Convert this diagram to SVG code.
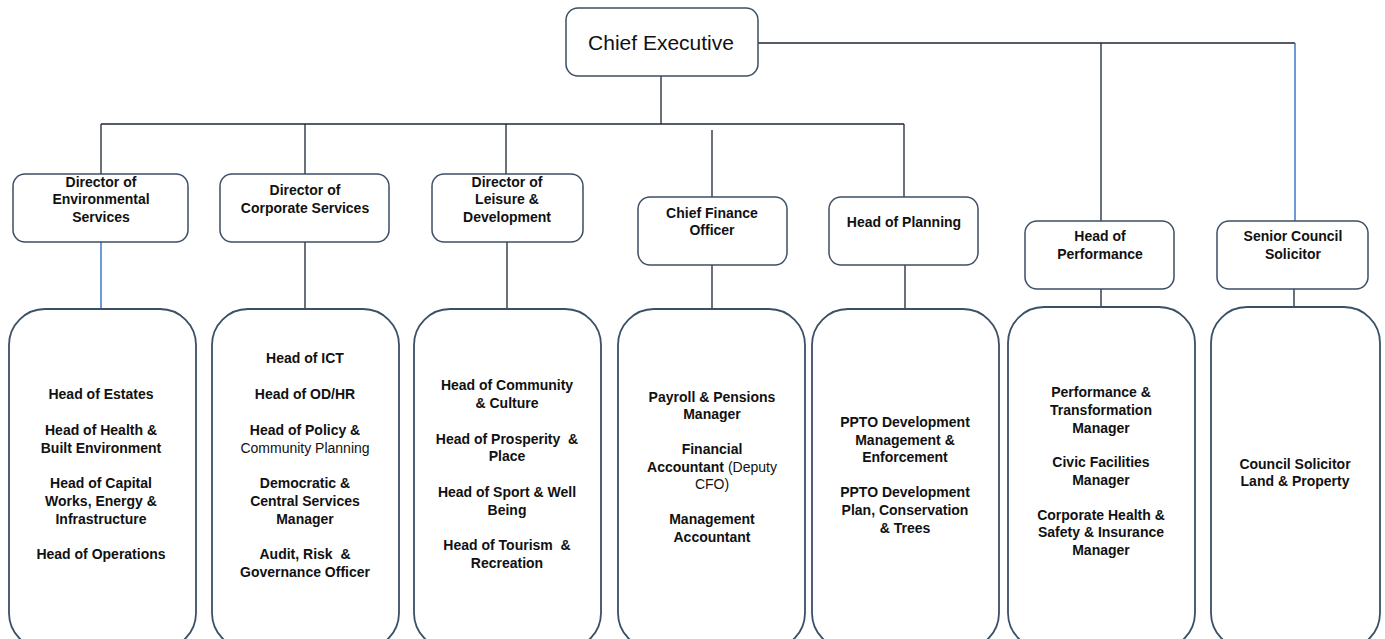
<svg xmlns="http://www.w3.org/2000/svg" width="1385" height="639" viewBox="0 0 1385 639">
<style>
.box{fill:#fff;stroke:#3b4f66;stroke-width:1.5}
.big{fill:#fff;stroke:#3b4f66;stroke-width:1.8}
.ln{stroke:#1e2733;stroke-width:1.3;fill:none}
.bl{stroke:#3a78c8;stroke-width:1.5;fill:none}
text{font-family:"Liberation Sans",Arial,sans-serif;font-size:14px;font-weight:bold;fill:#111;text-anchor:middle}
.n{font-weight:normal}
.ce{font-size:21px;font-weight:normal}
</style>
<rect width="1385" height="639" fill="#fff"/>
<g id="connectors">
<path class="ln" d="M758 43H1295M1101 43V221M661 76V124M101 124H904M101 124V174M305 124V174M506 124V174M904 124V197M712 130V197"/>
<path class="bl" d="M1295 43V221"/>
<path class="bl" d="M101 242V309"/>
<path class="ln" d="M305 242V309M507 242V309M712 265V309M905 265V309M1101 289V307M1294 289V307"/>
</g>
<g id="chief-executive">
<rect class="box" x="566" y="8" width="192" height="68" rx="12"/>
<text class="ce" x="661" y="50">Chief Executive</text>
</g>
<g id="dir-env">
<rect class="box" x="13" y="174" width="175" height="68" rx="12"/>
<text x="101" y="187">Director of</text><text x="101" y="204">Environmental</text><text x="101" y="222">Services</text>
</g>
<g id="dir-corp">
<rect class="box" x="220" y="174" width="169" height="68" rx="12"/>
<text x="305" y="195">Director of</text><text x="305" y="213">Corporate Services</text>
</g>
<g id="dir-leisure">
<rect class="box" x="432" y="174" width="151" height="68" rx="12"/>
<text x="507" y="187">Director of</text><text x="507" y="204">Leisure &amp;</text><text x="507" y="222">Development</text>
</g>
<g id="cfo">
<rect class="box" x="638" y="197" width="149" height="68" rx="12"/>
<text x="712" y="218">Chief Finance</text><text x="712" y="235">Officer</text>
</g>
<g id="head-planning">
<rect class="box" x="829" y="197" width="149" height="68" rx="12"/>
<text x="904" y="227">Head of Planning</text>
</g>
<g id="head-performance">
<rect class="box" x="1025" y="221" width="149" height="68" rx="12"/>
<text x="1100" y="241">Head of</text><text x="1100" y="259">Performance</text>
</g>
<g id="senior-solicitor">
<rect class="box" x="1217" y="221" width="151" height="68" rx="12"/>
<text x="1293" y="241">Senior Council</text><text x="1293" y="259">Solicitor</text>
</g>
<g id="team-env">
<rect class="big" x="9" y="309" width="187" height="340" rx="36"/>
<text x="101" y="399">Head of Estates</text>
<text x="101" y="435">Head of Health &amp;</text><text x="101" y="453">Built Environment</text>
<text x="101" y="488">Head of Capital</text><text x="101" y="506">Works, Energy &amp;</text><text x="101" y="524">Infrastructure</text>
<text x="101" y="559">Head of Operations</text>
</g>
<g id="team-corp">
<rect class="big" x="212" y="309" width="187" height="340" rx="36"/>
<text x="305" y="363">Head of ICT</text>
<text x="305" y="399">Head of OD/HR</text>
<text x="305" y="435">Head of Policy &amp;</text><text class="n" x="305" y="453">Community Planning</text>
<text x="305" y="488">Democratic &amp;</text><text x="305" y="506">Central Services</text><text x="305" y="524">Manager</text>
<text x="305" y="559">Audit, Risk&#160; &amp;</text><text x="305" y="577">Governance Officer</text>
</g>
<g id="team-leisure">
<rect class="big" x="414" y="309" width="187" height="340" rx="36"/>
<text x="507" y="390">Head of Community</text><text x="507" y="408">&amp; Culture</text>
<text x="507" y="444">Head of Prosperity&#160; &amp;</text><text x="507" y="461">Place</text>
<text x="507" y="497">Head of Sport &amp; Well</text><text x="507" y="515">Being</text>
<text x="507" y="550">Head of Tourism&#160; &amp;</text><text x="507" y="568">Recreation</text>
</g>
<g id="team-finance">
<rect class="big" x="618" y="309" width="187" height="340" rx="36"/>
<text x="712" y="402">Payroll &amp; Pensions</text><text x="712" y="419">Manager</text>
<text x="712" y="454">Financial</text>
<text x="712" y="472">Accountant <tspan class="n">(Deputy</tspan></text>
<text class="n" x="712" y="489">CFO)</text>
<text x="712" y="524">Management</text><text x="712" y="542">Accountant</text>
</g>
<g id="team-planning">
<rect class="big" x="812" y="309" width="187" height="340" rx="36"/>
<text x="905" y="427">PPTO Development</text><text x="905" y="445">Management &amp;</text><text x="905" y="462">Enforcement</text>
<text x="905" y="497">PPTO Development</text><text x="905" y="515">Plan, Conservation</text><text x="905" y="533">&amp; Trees</text>
</g>
<g id="team-performance">
<rect class="big" x="1008" y="307" width="187" height="342" rx="36"/>
<text x="1101" y="397">Performance &amp;</text><text x="1101" y="415">Transformation</text><text x="1101" y="433">Manager</text>
<text x="1101" y="467">Civic Facilities</text><text x="1101" y="485">Manager</text>
<text x="1101" y="520">Corporate Health &amp;</text><text x="1101" y="537">Safety &amp; Insurance</text><text x="1101" y="555">Manager</text>
</g>
<g id="team-solicitor">
<rect class="big" x="1211" y="307" width="169" height="342" rx="36"/>
<text x="1295" y="469">Council Solicitor</text><text x="1295" y="486">Land &amp; Property</text>
</g>
</svg>
